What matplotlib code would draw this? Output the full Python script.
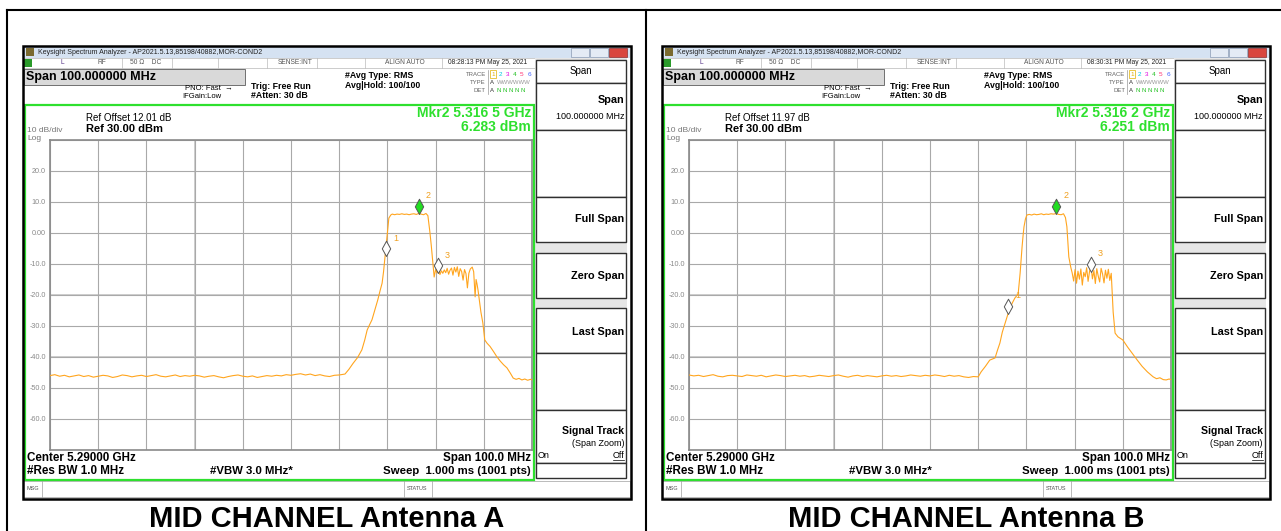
import numpy as np
import matplotlib
matplotlib.use('Agg')
import matplotlib.pyplot as plt
from matplotlib.patches import Rectangle
from matplotlib.lines import Line2D
from matplotlib.path import Path

plt.rcParams['font.family'] = ['Liberation Sans', 'DejaVu Sans']

captions = ['MID CHANNEL Antenna A', 'MID CHANNEL Antenna B']
ref_offsets = ['Ref Offset 12.01 dB', 'Ref Offset 11.97 dB']
mkr_freqs = ['Mkr2 5.316 5 GHz', 'Mkr2 5.316 2 GHz']
mkr_levels = ['6.283 dBm', '6.251 dBm']
timestamps = ['08:28:13 PM May 25, 2021', '08:30:31 PM May 25, 2021']

y_ticks = [30, 20, 10, 0, -10, -20, -30, -40, -50, -60, -70]
y_labels = ['', '20.0', '10.0', '0.00', '-10.0', '-20.0', '-30.0', '-40.0', '-50.0', '-60.0', '']

# noise floor, sweep points 5.240 .. 5.300 GHz every 1 MHz
floor_freq = np.round(np.arange(5.240, 5.3005, 0.001), 3)
floor_a = [-46.0, -45.7, -46.2, -45.9, -46.4, -46.1, -45.8, -46.3, -46.0, -46.5,
           -46.2, -45.9, -46.1, -46.6, -46.3, -45.8, -46.0, -46.4, -46.1, -45.9,
           -46.3, -46.0, -45.7, -46.2, -46.4, -46.1, -45.8, -46.3, -46.0, -46.2,
           -45.9, -46.1, -46.5, -46.2, -46.0, -46.4, -46.7, -46.3, -46.0, -45.8,
           -46.2, -46.4, -46.1, -46.6, -46.3, -46.0, -46.2, -45.9, -46.1, -45.7,
           -45.9, -45.6, -45.4, -45.8, -45.5, -46.0, -45.7, -46.1, -46.3, -45.9, -45.8]
floor_b = [-45.8, -46.1, -45.9, -46.3, -46.0, -45.7, -46.2, -46.4, -46.0, -45.9,
           -46.1, -46.3, -45.8, -46.0, -46.2, -45.9, -46.4, -46.1, -45.8, -46.0,
           -46.3, -46.1, -45.9, -46.2, -46.0, -46.4, -46.2, -45.9, -46.1, -46.3,
           -46.0, -45.8, -46.2, -46.5, -46.1, -45.9, -46.3, -46.0, -46.2, -46.4,
           -46.1, -45.9, -46.2, -46.0, -46.3, -46.1, -45.8, -46.0, -46.2, -45.9,
           -46.1, -45.8, -46.0, -46.3, -45.9, -46.2, -46.0, -46.4, -46.6, -46.3, -46.4]

# signal part of trace A
sig_freq_a = [5.3012, 5.3020, 5.3029, 5.3038, 5.3047, 5.3053, 5.3058, 5.3063, 5.3068, 5.3074,
              5.3080, 5.3085, 5.3089, 5.3092, 5.3095, 5.3099, 5.3103, 5.3107, 5.3110,
              5.3115, 5.3120, 5.3125, 5.3130, 5.3135, 5.3140, 5.3145, 5.3150, 5.3155, 5.3160,
              5.3165, 5.3170, 5.3175, 5.3180, 5.3184, 5.3188, 5.3191, 5.3194, 5.3197,
              5.3200, 5.3203, 5.3206, 5.3209, 5.3212, 5.3215, 5.3218, 5.3221, 5.3224, 5.3227,
              5.3230, 5.3233, 5.3236, 5.3239, 5.3242, 5.3245, 5.3248, 5.3251, 5.3254, 5.3257,
              5.3260, 5.3263, 5.3266, 5.3269, 5.3272, 5.3276, 5.3279, 5.3282, 5.3284, 5.3286,
              5.3288, 5.3291, 5.3294, 5.3298, 5.3302, 5.3307, 5.3313, 5.3320, 5.3327, 5.3334,
              5.3341, 5.3348, 5.3355, 5.3361, 5.3367, 5.3373, 5.3379, 5.3385, 5.3391, 5.3397, 5.3400]
sig_level_a = [-45.5, -44.0, -42.0, -40.2, -37.7, -34.5, -31.3, -29.6, -28.0, -24.8,
               -21.6, -18.5, -16.2, -12.5, -7.7, -1.3, 4.8, 5.8, 6.1,
               5.9, 6.1, 6.0, 6.2, 6.0, 6.1, 5.9, 6.1, 6.2, 6.0,
               6.28, 6.1, 5.9, 6.3, 5.6, 0.5, -4.0, -9.0, -14.2,
               -11.8, -12.9, -11.6, -13.4, -12.2, -13.0, -11.9, -12.8, -11.4, -13.3,
               -12.0, -11.3, -13.6, -11.1, -12.6, -10.9, -14.0, -11.5, -12.4, -15.2,
               -11.8, -13.1, -17.7, -13.0, -11.6, -11.0, -12.5, -20.6, -15.0, -16.5,
               -18.4, -22.0, -25.5, -29.0, -34.5, -35.6, -36.6, -38.2, -39.9, -41.3,
               -42.5, -43.5, -45.2, -46.8, -47.2, -46.9, -47.4, -47.1, -47.5, -47.2, -47.4]

# signal part of trace B
sig_freq_b = [5.3006, 5.3015, 5.3024, 5.3030, 5.3035, 5.3040, 5.3045, 5.3050, 5.3056, 5.3061,
              5.3066, 5.3071, 5.3076, 5.3080, 5.3083, 5.3085, 5.3087, 5.3089, 5.3091, 5.3093,
              5.3095, 5.3098, 5.3101,
              5.3106, 5.3111, 5.3116, 5.3121, 5.3126, 5.3131, 5.3136, 5.3141, 5.3146, 5.3151,
              5.3156, 5.3162, 5.3167, 5.3172, 5.3177, 5.3181, 5.3184, 5.3188, 5.3192, 5.3195,
              5.3198, 5.3201, 5.3204, 5.3207, 5.3210, 5.3213, 5.3216, 5.3219, 5.3222, 5.3225,
              5.3228, 5.3231, 5.3234, 5.3237, 5.3240, 5.3243, 5.3246, 5.3249, 5.3252, 5.3255,
              5.3258, 5.3261, 5.3264, 5.3267, 5.3270, 5.3273, 5.3276, 5.3278, 5.3280, 5.3284,
              5.3290, 5.3300, 5.3310, 5.3319, 5.3330, 5.3340, 5.3351, 5.3363, 5.3370, 5.3377,
              5.3384, 5.3390, 5.3396, 5.3400]
sig_level_b = [-44.8, -43.0, -41.0, -40.6, -40.3, -37.8, -35.5, -32.0, -29.0, -26.5,
               -24.2, -22.5, -21.0, -20.2, -19.5, -16.0, -12.9, -8.5, -4.5, -1.0,
               2.0, 4.5, 5.8,
               6.0, 5.8, 6.1, 5.9, 6.0, 6.2, 5.9, 6.1, 6.0, 6.2,
               6.1, 6.25, 6.0, 5.9, 6.2, 5.0, 2.0, -7.7, -11.0, -12.9,
               -15.5, -11.8, -16.2, -12.3, -14.9, -11.6, -16.8, -12.7, -14.1, -11.2,
               -15.6, -12.4, -10.8, -14.8, -12.1, -16.3, -11.5, -13.9, -15.8, -11.4,
               -13.2, -16.1, -12.0, -14.6, -11.7, -15.3, -13.0, -19.5, -25.5, -32.3,
               -33.5, -34.5, -36.8, -38.7, -41.0, -43.0, -44.8, -46.4, -47.0, -46.7,
               -47.3, -47.4, -47.1, -47.3]

# markers 1, 2, 3 (GHz, dBm)
mkr_f_a = [5.3097, 5.3165, 5.3204]
mkr_l_a = [-7.5, 6.283, -12.9]
mkr_f_b = [5.3062, 5.3162, 5.3233]
mkr_l_b = [-26.0, 6.251, -12.5]

freq_a = np.concatenate([floor_freq, sig_freq_a])
level_a = np.concatenate([floor_a, sig_level_a])
freq_b = np.concatenate([floor_freq, sig_freq_b])
level_b = np.concatenate([floor_b, sig_level_b])

W, H = 1281, 531
fig = plt.figure(figsize=(W / 100, H / 100), dpi=100)
fig.patch.set_facecolor('white')


def box(x, y, w, h, fc='none', ec='none', lw=0.7, z=1):
    fig.add_artist(Rectangle((x / W, 1 - (y + h) / H), w / W, h / H,
                             transform=fig.transFigure, fc=fc, ec=ec, lw=lw, zorder=z))


def line(x0, y0, x1, y1, c='black', lw=0.7, z=2):
    fig.add_artist(Line2D([x0 / W, x1 / W], [1 - y0 / H, 1 - y1 / H],
                          transform=fig.transFigure, color=c, lw=lw, zorder=z))


def txt(x, y, s, size=6, ha='left', weight='normal', color='black', **kw):
    fig.text(x / W, 1 - y / H, s, fontsize=size, ha=ha, va='center',
             weight=weight, color=color, zorder=4, **kw)


# diamond with its lower tip at the marker point
diamond = Path([(0, 0), (0.55, 1), (0, 2), (-0.55, 1), (0, 0)],
               [Path.MOVETO, Path.LINETO, Path.LINETO, Path.LINETO, Path.CLOSEPOLY])


def draw_screen(ox, i, freq, level, mf, ml):
    X = lambda v: v + ox
    # window title bar
    box(X(23), 46, 607, 12, fc='#d5e2f2')
    box(X(26), 48, 8, 8, fc='#7a6a30')
    txt(X(38), 52, 'Keysight Spectrum Analyzer - AP2021.5.13,85198/40882,MOR-COND2', size=5, color='#222')
    box(X(571), 48, 18, 9, fc='#e4ebf5', ec='#8b9bb3', lw=0.5)
    box(X(590), 48, 18, 9, fc='#e4ebf5', ec='#8b9bb3', lw=0.5)
    box(X(609), 48, 18, 9, fc='#d9463e', ec='#8b3030', lw=0.5)

    # status row
    box(X(23), 58, 512, 10, fc='white', ec='#b8b8b8', lw=0.5)
    box(X(24), 59, 8, 8, fc='#2a9a2a')
    for sx in [122, 172, 218, 267, 317, 365, 442]:
        line(X(sx), 58, X(sx), 68, c='#bbbbbb', lw=0.5)
    txt(X(60), 63, 'L', size=4.8, color='#553388')
    txt(X(97), 63, 'RF', size=4.8, color='#555')
    txt(X(130), 63, '50 Ω    DC', size=4.8, color='#555')
    txt(X(295), 63, 'SENSE:INT', size=4.8, color='#555', ha='center')
    txt(X(405), 63, 'ALIGN AUTO', size=4.8, color='#555', ha='center')
    txt(X(488), 63, timestamps[i], size=4.8, color='#222', ha='center')

    # header
    box(X(24), 69, 221, 16, fc='#d9d9d9', ec='#707070', lw=0.7)
    txt(X(26), 77, 'Span 100.000000 MHz', size=9, weight='bold')
    txt(X(185), 89, 'PNO: Fast  →', size=5.5)
    txt(X(182), 97, 'IFGain:Low', size=5.5)
    txt(X(251), 87, 'Trig: Free Run', size=6.3, weight='bold')
    txt(X(251), 96, '#Atten: 30 dB', size=6.3, weight='bold')
    txt(X(345), 75, '#Avg Type: RMS', size=6.3, weight='bold')
    txt(X(345), 85, 'Avg|Hold: 100/100', size=6.3, weight='bold')
    txt(X(486), 74, 'TRACE', size=4.3, color='#666', ha='right')
    txt(X(486), 82, 'TYPE', size=4.3, color='#666', ha='right')
    txt(X(486), 90, 'DET', size=4.3, color='#666', ha='right')
    line(X(488), 70, X(488), 94, c='#999', lw=0.5)
    for k, col in enumerate(['#e0b000', '#00c8e0', '#e000e0', '#20c020', '#ff3070', '#4060ff']):
        txt(X(491 + k * 7.3), 74, str(k + 1), size=4.6, color=col)
    box(X(489.5), 70.5, 6, 7, ec='#e0b000', lw=0.5)
    txt(X(490), 82, 'A', size=4.3, color='#333')
    txt(X(497), 82, 'WWWWWW', size=4.3, color='#999')
    txt(X(490), 90, 'A', size=4.3, color='#333')
    txt(X(497), 90, 'N N N N N', size=4.3, color='#20c020')

    # measurement frame
    box(X(24.5), 104.5, 509, 375, ec='#2ee02e', lw=1.6, z=3)
    txt(X(86), 118, ref_offsets[i], size=7)
    txt(X(27), 130, '10 dB/div', size=6, color='#777')
    txt(X(86), 129, 'Ref 30.00 dBm', size=8, weight='bold')
    txt(X(27), 138, 'Log', size=6, color='#777')
    txt(X(531), 113, mkr_freqs[i], size=10, weight='bold', color='#2ee02e', ha='right')
    txt(X(531), 127, mkr_levels[i], size=10, weight='bold', color='#2ee02e', ha='right')

    ax = fig.add_axes([X(50) / W, 1 - 450 / H, 482 / W, 310 / H])
    ax.plot(freq, level, color='#ffa51e', lw=0.8, zorder=3)
    ax.set_xlim(5.24, 5.34)
    ax.set_ylim(-70, 30)
    ax.set_xticks(np.linspace(5.24, 5.34, 11))
    ax.set_xticklabels([])
    ax.set_yticks(y_ticks)
    ax.set_yticklabels(y_labels)
    ax.tick_params(length=0, pad=3, labelsize=5.2, labelcolor='#8a8a8a')
    ax.grid(color='#a9a9a9', lw=0.8)
    for s in ax.spines.values():
        s.set_color('#8a8a8a')
        s.set_linewidth(1.2)
    ax.axhline(-20, color='#cfcfcf', lw=1.4, zorder=1)
    ax.axhline(-40, color='#cfcfcf', lw=1.4, zorder=1)
    ax.axvline(5.27, color='#cfcfcf', lw=1.4, zorder=1)

    for k in range(3):
        face = '#22dd22' if k == 1 else 'white'
        ax.plot(mf[k], ml[k], marker=diamond, markersize=22, mfc=face, mec='#555555',
                mew=0.7, ls='none', zorder=5)
        ax.annotate(str(k + 1), (mf[k], ml[k]), xytext=(5, 11), textcoords='offset points',
                    fontsize=6.5, color='#f0a020', zorder=6)

    txt(X(27), 458, 'Center 5.29000 GHz', size=8.4, weight='bold')
    txt(X(531), 458, 'Span 100.0 MHz', size=8.4, weight='bold', ha='right')
    txt(X(27), 471, '#Res BW 1.0 MHz', size=8.4, weight='bold')
    txt(X(210), 471, '#VBW 3.0 MHz*', size=8.2, weight='bold')
    txt(X(531), 471, 'Sweep  1.000 ms (1001 pts)', size=8.2, weight='bold', ha='right')

    # message bar
    box(X(23), 481, 607, 16, fc='white', ec='#a0a0a0', lw=0.5)
    line(X(42), 481, X(42), 497, c='#a0a0a0', lw=0.5)
    line(X(404), 481, X(404), 497, c='#a0a0a0', lw=0.5)
    line(X(432), 481, X(432), 497, c='#a0a0a0', lw=0.5)
    txt(X(26), 489, 'MSG', size=4, color='#555')
    txt(X(407), 489, 'STATUS', size=4, color='#555')

    # softkey panel
    box(X(535), 58, 92, 421, fc='#e6e6e6')
    keys = [(60, 83), (83, 130), (130, 197), (197, 242), (253, 298), (308, 353),
            (353, 410), (410, 463), (463, 478)]
    for top, bot in keys:
        box(X(536), top, 90, bot - top, fc='white', ec='#303030', lw=1.0, z=2)
    txt(X(581), 71, 'Span', size=7, ha='center')
    txt(X(624), 100, 'Span', size=7.8, weight='bold', ha='right')
    txt(X(624), 116, '100.000000 MHz', size=6.5, ha='right')
    txt(X(624), 219, 'Full Span', size=7.8, weight='bold', ha='right')
    txt(X(624), 276, 'Zero Span', size=7.8, weight='bold', ha='right')
    txt(X(624), 332, 'Last Span', size=7.8, weight='bold', ha='right')
    txt(X(624), 431, 'Signal Track', size=7.6, weight='bold', ha='right')
    txt(X(624), 443, '(Span Zoom)', size=6.5, ha='right')
    txt(X(538), 455, 'On', size=6.5)
    txt(X(624), 455, 'Off', size=6.5, ha='right')
    line(X(613), 460, X(624), 460, lw=0.5)

    # screenshot border
    box(X(22.5), 45.5, 608, 453, ec='black', lw=1.8, z=5)
    txt(X(327), 519, captions[i], size=21, weight='bold', ha='center')


draw_screen(0, 0, freq_a, level_a, mkr_f_a, mkr_l_a)
draw_screen(639, 1, freq_b, level_b, mkr_f_b, mkr_l_b)

# table lines around the two cells
line(7, 10, 1281, 10, lw=1.5, z=6)
line(7, 10, 7, 531, lw=1.5, z=6)
line(646, 10, 646, 531, lw=1.5, z=6)

fig.savefig('out.png', dpi=100)
